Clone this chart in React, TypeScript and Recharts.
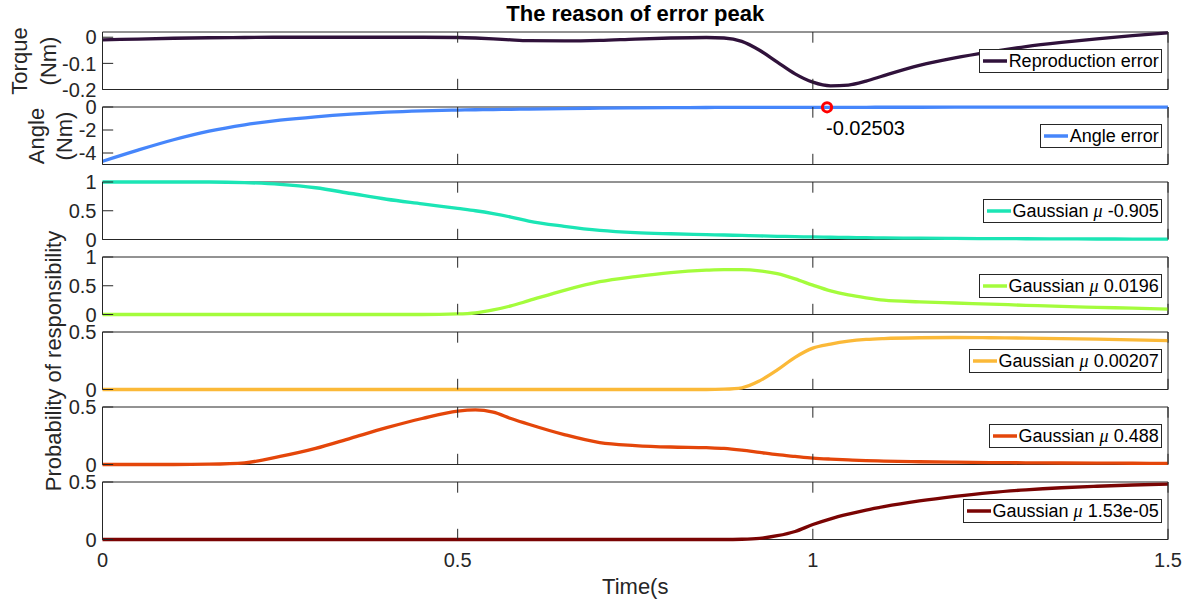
import React from 'react';
import { LineChart, Line, XAxis, YAxis, Legend, ReferenceDot } from 'recharts';

// ---- data -----------------------------------------------------------------
const T = [0, 0.05, 0.1, 0.15, 0.2, 0.25, 0.3, 0.35, 0.4, 0.45, 0.5, 0.525, 0.55, 0.575, 0.6, 0.65, 0.7, 0.75, 0.8, 0.85, 0.875, 0.9, 0.925, 0.95, 0.975, 1.0, 1.025, 1.05, 1.075, 1.1, 1.15, 1.2, 1.25, 1.3, 1.35, 1.4, 1.45, 1.5];

const REPRODUCTION_ERROR = [-0.01, -0.007, -0.004, -0.002, -0.001, 0, 0, 0, 0, 0, -0.001, -0.003, -0.006, -0.01, -0.013, -0.014, -0.012, -0.007, -0.003, -0.001, -0.003, -0.016, -0.05, -0.095, -0.14, -0.172, -0.186, -0.183, -0.168, -0.147, -0.108, -0.079, -0.056, -0.036, -0.02, -0.006, 0.006, 0.017];
const ANGLE_ERROR = [-4.72, -3.75, -2.85, -2.1, -1.55, -1.15, -0.85, -0.62, -0.45, -0.34, -0.27, -0.24, -0.22, -0.2, -0.18, -0.14, -0.1, -0.075, -0.055, -0.042, -0.037, -0.033, -0.03, -0.028, -0.026, -0.0255, -0.025, -0.0245, -0.024, -0.023, -0.021, -0.019, -0.017, -0.015, -0.013, -0.011, -0.01, -0.009];
const GAUSS_M0905 = [1, 1, 1, 1, 0.99, 0.96, 0.9, 0.8, 0.7, 0.62, 0.54, 0.5, 0.45, 0.39, 0.32, 0.23, 0.16, 0.12, 0.1, 0.085, 0.078, 0.07, 0.063, 0.056, 0.05, 0.044, 0.039, 0.035, 0.031, 0.028, 0.023, 0.019, 0.016, 0.013, 0.011, 0.009, 0.008, 0.007];
const GAUSS_00196 = [0, 0, 0, 0, 0, 0, 0, 0, 0, 0, 0.01, 0.03, 0.08, 0.15, 0.24, 0.42, 0.57, 0.66, 0.73, 0.77, 0.78, 0.78, 0.76, 0.71, 0.62, 0.51, 0.41, 0.34, 0.29, 0.25, 0.22, 0.2, 0.18, 0.16, 0.14, 0.125, 0.11, 0.095];
const GAUSS_000207 = [0, 0, 0, 0, 0, 0, 0, 0, 0, 0, 0, 0, 0, 0, 0, 0, 0, 0, 0, 0, 0.003, 0.015, 0.075, 0.17, 0.28, 0.36, 0.395, 0.42, 0.435, 0.443, 0.45, 0.452, 0.45, 0.447, 0.443, 0.438, 0.432, 0.425];
const GAUSS_0488 = [0, 0, 0, 0.003, 0.015, 0.07, 0.14, 0.23, 0.32, 0.4, 0.465, 0.475, 0.455, 0.4, 0.35, 0.26, 0.19, 0.165, 0.152, 0.146, 0.14, 0.125, 0.105, 0.085, 0.07, 0.056, 0.047, 0.04, 0.034, 0.03, 0.024, 0.02, 0.017, 0.015, 0.013, 0.012, 0.011, 0.01];
const GAUSS_153E5 = [0, 0, 0, 0, 0, 0, 0, 0, 0, 0, 0, 0, 0, 0, 0, 0, 0, 0, 0, 0, 0, 0.002, 0.01, 0.033, 0.07, 0.13, 0.18, 0.22, 0.255, 0.285, 0.335, 0.375, 0.408, 0.432, 0.45, 0.463, 0.474, 0.482];

const X_TICKS = [0, 0.5, 1, 1.5];
const TORQUE_TICKS = [-0.2, -0.1, 0];
const ANGLE_TICKS = [-4, -2, 0];
const PROB_TICKS_ONE = [0, 0.5, 1];
const PROB_TICKS_HALF = [0, 0.5];

const PEAK_T = 1.02;
const PEAK_VALUE = -0.02503;

// ---- styling / layout -------------------------------------------------------
const W = 1187;
const H = 601;
const PLOT_LEFT = 102.5;
const PLOT_RIGHT = 1168;
const FIRST_TOP = 32;
const PITCH = 75;
const PLOT_H = 57.5;
const MARGIN = 10;
const LAST_BOTTOM = 40;
const AX = 1; // thickness reserved for each axis band
const TICK = 10.7;
const AXIS = '#262626';
const FONT = '"Liberation Sans", Arial, Helvetica, sans-serif';
const MU_FONT = '"Liberation Serif", "DejaVu Serif", serif';

type Panel = {
  key: string;
  values: number[];
  color: string;
  label: string;
  mu?: string;
  domain: [number, number];
  ticks: number[];
};

const PANELS: Panel[] = [
  { key: 'repro', values: REPRODUCTION_ERROR, color: '#30123b', label: 'Reproduction error', domain: [-0.2, 0.02], ticks: TORQUE_TICKS },
  { key: 'angle', values: ANGLE_ERROR, color: '#4686fb', label: 'Angle error', domain: [-5, 0], ticks: ANGLE_TICKS },
  { key: 'g1', values: GAUSS_M0905, color: '#1be5b5', label: 'Gaussian', mu: '-0.905', domain: [0, 1], ticks: PROB_TICKS_ONE },
  { key: 'g2', values: GAUSS_00196, color: '#a4fc3c', label: 'Gaussian', mu: '0.0196', domain: [0, 1], ticks: PROB_TICKS_ONE },
  { key: 'g3', values: GAUSS_000207, color: '#fbb938', label: 'Gaussian', mu: '0.00207', domain: [0, 0.5], ticks: PROB_TICKS_HALF },
  { key: 'g4', values: GAUSS_0488, color: '#e4460a', label: 'Gaussian', mu: '0.488', domain: [0, 0.5], ticks: PROB_TICKS_HALF },
  { key: 'g5', values: GAUSS_153E5, color: '#7a0403', label: 'Gaussian', mu: '1.53e-05', domain: [0, 0.5], ticks: PROB_TICKS_HALF },
];

// ---- tick renderers (MATLAB-style inward ticks) -----------------------------
const leftTick = (p: any) => (
  <g>
    <line x1={p.x} x2={p.x + TICK} y1={p.y} y2={p.y} stroke={AXIS} strokeWidth={1} />
    <text x={p.x - 6} y={p.y} dy="0.36em" textAnchor="end" fontFamily={FONT} fontSize={20} fill={AXIS}>
      {String(p.payload.value)}
    </text>
  </g>
);

const rightTick = (p: any) => (
  <line x1={p.x - TICK} x2={p.x} y1={p.y} y2={p.y} stroke={AXIS} strokeWidth={1} />
);

const topTick = (p: any) => (
  <line x1={p.x} x2={p.x} y1={p.y} y2={p.y + TICK} stroke={AXIS} strokeWidth={1} />
);

const bottomTick = (withLabel: boolean) => (p: any) => (
  <g>
    <line x1={p.x} x2={p.x} y1={p.y - TICK} y2={p.y} stroke={AXIS} strokeWidth={1} />
    {withLabel && (
      <text x={p.x} y={p.y + 27} textAnchor="middle" fontFamily={FONT} fontSize={20} fill={AXIS}>
        {String(p.payload.value)}
      </text>
    )}
  </g>
);

const LegendBox = ({ panel }: { panel: Panel }) => (
  <div
    style={{
      display: 'flex',
      alignItems: 'center',
      height: 24,
      boxSizing: 'border-box',
      border: `1px solid ${AXIS}`,
      background: '#fff',
      padding: '0 2px 0 3px',
      fontFamily: FONT,
      fontSize: 18,
      color: '#000',
      whiteSpace: 'nowrap',
      lineHeight: '20px',
    }}
  >
    <svg width={24} height={6} style={{ display: 'block', marginRight: 2 }}>
      <line x1={0} x2={24} y1={3} y2={3} stroke={panel.color} strokeWidth={3.5} />
    </svg>
    <span>
      {panel.label}
      {panel.mu !== undefined && (
        <>
          {' '}
          <span style={{ fontFamily: MU_FONT, fontStyle: 'italic' }}>μ</span> {panel.mu}
        </>
      )}
    </span>
  </div>
);

const peakLabel = (p: any) => {
  const vb = p.viewBox;
  const cx = vb.x + vb.width / 2;
  const cy = vb.y + vb.height / 2;
  return (
    <text x={cx - 1} y={cy + 28} fontFamily={FONT} fontSize={20} fill="#000">
      {String(PEAK_VALUE)}
    </text>
  );
};

function PanelChart({ panel, index }: { panel: Panel; index: number }) {
  const isLast = index === PANELS.length - 1;
  const bottom = isLast ? LAST_BOTTOM : MARGIN;
  const data = T.map((t, i) => ({ t, v: panel.values[i] }));
  const top = FIRST_TOP + index * PITCH - MARGIN;
  return (
    <div style={{ position: 'absolute', left: 0, top, width: W }}>
      <LineChart
        width={W}
        height={PLOT_H + MARGIN + bottom}
        data={data}
        margin={{ top: MARGIN - AX, bottom: bottom - AX, left: PLOT_LEFT - AX, right: W - PLOT_RIGHT - AX }}
      >
        <XAxis
          dataKey="t"
          type="number"
          domain={[0, 1.5]}
          ticks={X_TICKS}
          interval={0}
          height={AX}
          tickSize={0}
          tickMargin={0}
          tickLine={false}
          axisLine={{ stroke: AXIS, strokeWidth: 1 }}
          tick={bottomTick(isLast)}
        />
        <XAxis
          xAxisId="top"
          dataKey="t"
          type="number"
          orientation="top"
          domain={[0, 1.5]}
          ticks={X_TICKS}
          interval={0}
          height={AX}
          tickSize={0}
          tickMargin={0}
          tickLine={false}
          axisLine={{ stroke: AXIS, strokeWidth: 1 }}
          tick={topTick}
        />
        <YAxis
          type="number"
          domain={panel.domain}
          ticks={panel.ticks}
          interval={0}
          width={AX}
          tickSize={0}
          tickMargin={0}
          tickLine={false}
          axisLine={{ stroke: AXIS, strokeWidth: 1 }}
          tick={leftTick}
        />
        <YAxis
          yAxisId="r"
          type="number"
          orientation="right"
          domain={panel.domain}
          ticks={panel.ticks}
          interval={0}
          width={AX}
          tickSize={0}
          tickMargin={0}
          tickLine={false}
          axisLine={{ stroke: AXIS, strokeWidth: 1 }}
          tick={rightTick}
        />
        <Line
          type="monotone"
          dataKey="v"
          stroke={panel.color}
          strokeWidth={3.3}
          dot={false}
          activeDot={false}
          isAnimationActive={false}
          zIndex={800}
        />
        {panel.key === 'angle' && (
          <ReferenceDot
            x={PEAK_T}
            y={PEAK_VALUE}
            r={4.6}
            fill="none"
            stroke="#ff0000"
            strokeWidth={3}
            label={peakLabel}
            zIndex={900}
          />
        )}
        <Legend
          align="center"
          verticalAlign="middle"
          layout="horizontal"
          wrapperStyle={{
            top: MARGIN + 16.5,
            right: W - 1161.7,
            left: 'auto',
            bottom: 'auto',
            width: 'auto',
            height: 'auto',
          }}
          content={() => <LegendBox panel={panel} />}
        />
      </LineChart>
    </div>
  );
}

export default function App() {
  const centerX = (PLOT_LEFT + PLOT_RIGHT) / 2;
  return (
    <div style={{ position: 'absolute', left: 0, top: 0, width: W, height: H, background: '#fff', overflow: 'hidden' }}>
      {PANELS.map((p, i) => (
        <PanelChart key={p.key} panel={p} index={i} />
      ))}
      <svg width={W} height={H} style={{ position: 'absolute', left: 0, top: 0, pointerEvents: 'none' }}>
        <text x={centerX} y={21} textAnchor="middle" fontFamily={FONT} fontSize={22} fontWeight="bold" fill="#000">
          The reason of error peak
        </text>
        <text x={centerX} y={594} textAnchor="middle" fontFamily={FONT} fontSize={22} fill={AXIS}>
          Time(s
        </text>
        <g fontFamily={FONT} fontSize={22} fill={AXIS} textAnchor="middle">
          <text transform="translate(26.7,61) rotate(-90)">Torque</text>
          <text transform="translate(55.5,61) rotate(-90)">(Nm)</text>
          <text transform="translate(44,136) rotate(-90)">Angle</text>
          <text transform="translate(72,136) rotate(-90)">(Nm)</text>
          <text transform="translate(61,361) rotate(-90)">Probability of responsibility</text>
        </g>
      </svg>
    </div>
  );
}
